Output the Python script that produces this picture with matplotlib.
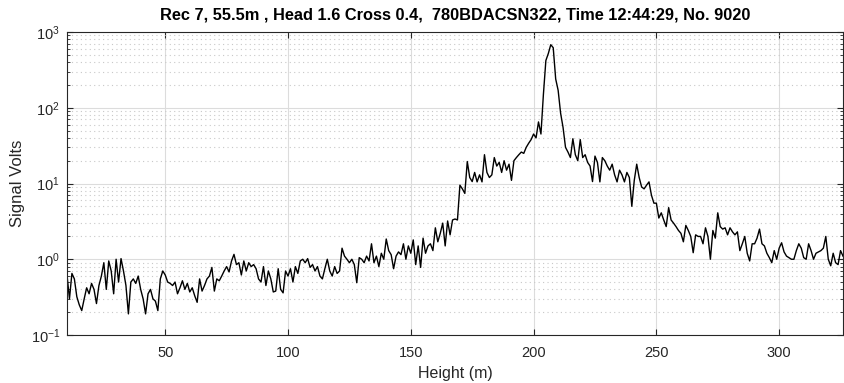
import numpy as np
import matplotlib
matplotlib.use("Agg")
import matplotlib.pyplot as plt
from matplotlib.ticker import LogLocator, NullFormatter, FixedLocator

# Height axis (m), 1 m steps from 10 to 326
height_start = 10
height_step = 1

signal = [
    # 10-19
    0.62, 0.30, 0.65, 0.55, 0.32, 0.25, 0.21, 0.30, 0.42, 0.35,
    # 20-29
    0.48, 0.40, 0.26, 0.45, 0.60, 0.90, 0.40, 0.95, 0.70, 0.35,
    # 30-39
    1.00, 0.50, 1.02, 0.70, 0.45, 0.19, 0.50, 0.55, 0.48, 0.60,
    # 40-49
    0.40, 0.30, 0.19, 0.35, 0.40, 0.30, 0.28, 0.21, 0.55, 0.70,
    # 50-59
    0.62, 0.50, 0.48, 0.45, 0.50, 0.35, 0.42, 0.52, 0.40, 0.48,
    # 60-69
    0.37, 0.42, 0.33, 0.27, 0.55, 0.38, 0.45, 0.55, 0.60, 0.78,
    # 70-79
    0.38, 0.55, 0.52, 0.60, 0.70, 0.80, 0.68, 0.95, 1.16, 0.85,
    # 80-89
    0.90, 0.62, 0.95, 0.70, 0.90, 0.80, 0.85, 0.75, 0.55, 0.50,
    # 90-99
    0.80, 0.45, 0.70, 0.55, 0.37, 0.38, 0.75, 0.40, 0.36, 0.70,
    # 100-109
    0.60, 0.75, 0.50, 0.80, 0.65, 0.95, 1.00, 0.90, 1.02, 0.78,
    # 110-119
    0.85, 0.70, 0.80, 0.60, 0.55, 0.75, 1.00, 0.70, 0.60, 0.80,
    # 120-129
    0.65, 0.70, 1.40, 1.10, 1.00, 0.90, 1.00, 0.85, 0.49, 1.05,
    # 130-139
    1.00, 0.90, 1.10, 0.95, 1.60, 0.90, 1.10, 0.80, 1.20, 1.00,
    # 140-149
    1.85, 1.30, 1.15, 0.75, 1.10, 1.25, 1.15, 1.60, 1.00, 1.50,
    # 150-159
    1.20, 1.80, 0.85, 1.50, 0.78, 1.90, 1.20, 1.50, 1.60, 1.30,
    # 160-169
    2.60, 1.70, 2.20, 3.00, 1.50, 3.20, 2.10, 3.30, 3.40, 3.30,
    # 170-179
    9.5, 8.5, 7.4, 19.5, 12.0, 10.6, 14.0, 10.5, 13.0, 10.5,
    # 180-189
    24.0, 14.0, 12.0, 13.0, 22.0, 17.0, 19.0, 14.0, 20.0, 15.0,
    # 190-199
    18.0, 11.0, 20.0, 22.0, 24.0, 26.0, 25.0, 30.0, 34.0, 38.0,
    # 200-209
    45.0, 40.0, 65.0, 45.0, 150.0, 420.0, 520.0, 680.0, 620.0, 240.0,
    # 210-219
    170.0, 85.0, 55.0, 30.0, 26.0, 22.0, 39.0, 24.0, 20.0, 38.0,
    # 220-229
    22.0, 24.0, 19.0, 17.0, 10.6, 23.0, 19.0, 10.5, 22.0, 20.0,
    # 230-239
    17.0, 15.0, 18.0, 13.0, 10.5, 15.0, 13.0, 10.5, 14.0, 12.0,
    # 240-249
    5.0, 11.0, 18.0, 12.0, 9.0, 8.5, 9.5, 10.5, 7.0, 5.5,
    # 250-259
    5.5, 3.5, 4.1, 3.3, 2.7, 4.8, 3.3, 3.0, 2.7, 2.4,
    # 260-269
    2.2, 1.7, 2.8, 2.4, 2.0, 1.22, 2.1, 2.0, 2.0, 1.6,
    # 270-279
    2.6, 2.0, 1.0, 2.4, 1.9, 4.1, 2.7, 2.5, 2.6, 2.1,
    # 280-289
    2.6, 2.3, 2.1, 2.3, 1.3, 1.6, 2.0, 1.2, 0.95, 1.6,
    # 290-299
    1.6, 1.9, 2.5, 1.6, 1.5, 1.2, 1.05, 0.9, 1.3, 1.0,
    # 300-309
    1.4, 1.65, 1.25, 1.1, 1.05, 1.0, 1.0, 1.3, 1.6, 1.4,
    # 310-319
    1.05, 1.0, 1.6, 1.3, 1.0, 1.2, 1.25, 1.3, 1.4, 2.0,
    # 320-326
    1.0, 0.82, 1.2, 0.9, 0.85, 1.3, 1.1,
]

x_ticks = [50, 100, 150, 200, 250, 300]
title_text = "Rec 7, 55.5m , Head 1.6 Cross 0.4,  780BDACSN322, Time 12:44:29, No. 9020"

heights = height_start + height_step * np.arange(len(signal))

plt.rcParams['font.family'] = ['Liberation Sans', 'DejaVu Sans']
fig = plt.figure(figsize=(8.45, 3.83), dpi=100)
ax = fig.add_axes([67/845, 48/383, (843-67)/845, (335-32)/383])

ax.plot(heights, signal, color='black', linewidth=1.0)
ax.set_yscale('log')
ax.set_xlim(10, 326)
ax.set_ylim(0.1, 1000)

ax.xaxis.set_major_locator(FixedLocator(x_ticks))
ax.yaxis.set_major_locator(LogLocator(base=10, numticks=10))
ax.yaxis.set_minor_locator(LogLocator(base=10, subs=np.arange(2, 10), numticks=20))
ax.yaxis.set_minor_formatter(NullFormatter())

ax.grid(True, which='major', color='#dcdcdc', linewidth=0.8, linestyle='-')
ax.grid(True, which='minor', axis='y', color='#c8c8c8', linewidth=0.8, linestyle=(0, (1, 3)))
ax.set_axisbelow(True)

tc = '#262626'
ax.tick_params(which='both', direction='in', top=True, right=True, colors=tc, labelsize=10.5)
ax.tick_params(which='major', length=4)
ax.tick_params(which='minor', length=2)
ax.tick_params(axis='x', which='major', pad=8)
ax.tick_params(axis='y', which='major', pad=5)
for s in ax.spines.values():
    s.set_color(tc)
    s.set_linewidth(0.8)

ax.set_xlabel('Height (m)', fontsize=11.5, color=tc, labelpad=4)
ax.set_ylabel('Signal Volts', fontsize=12, color=tc, labelpad=4)
ax.set_title(title_text, fontsize=11.8, fontweight='bold', color='black', pad=9)

fig.savefig('out.png', dpi=100, facecolor='white')
